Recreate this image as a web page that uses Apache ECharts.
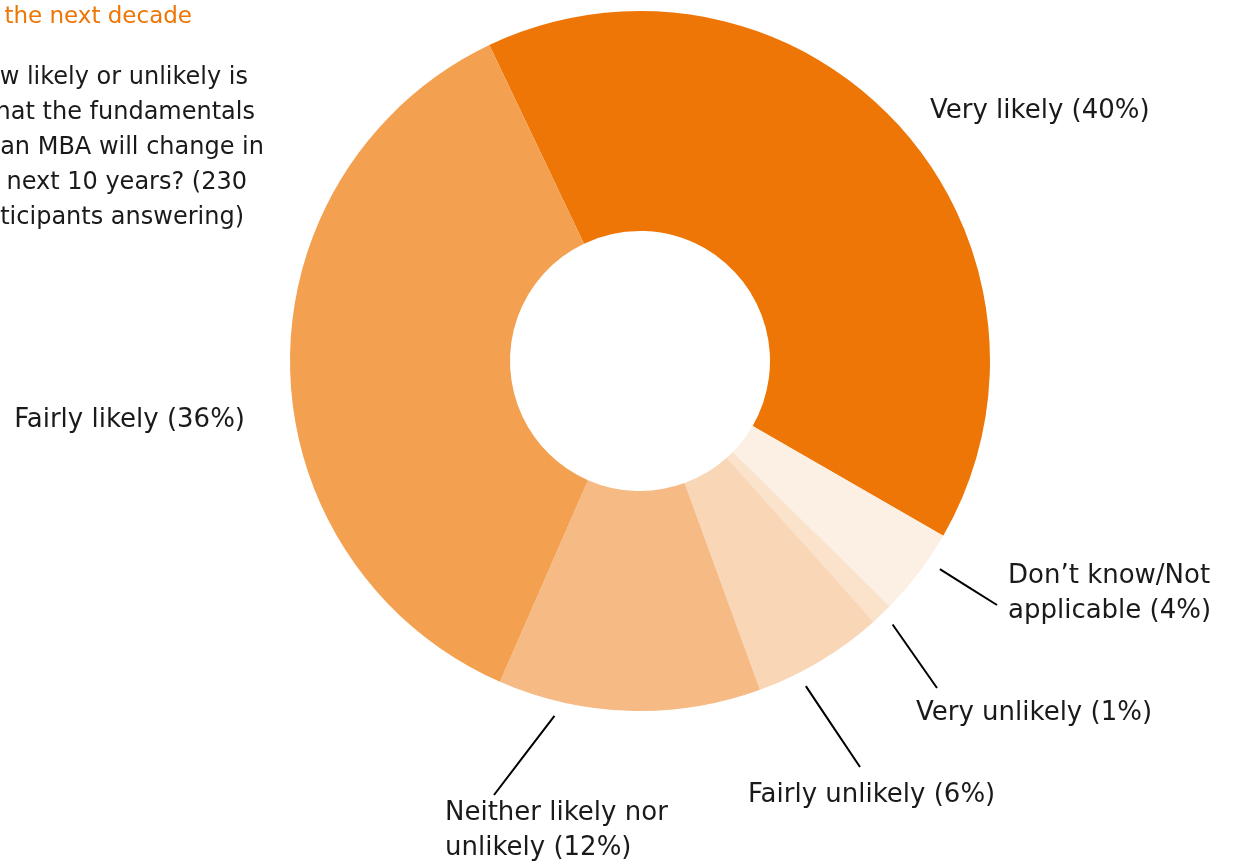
<!DOCTYPE html>
<html><head><meta charset="utf-8">
<script src="https://cdn.jsdelivr.net/npm/echarts@6/dist/echarts.min.js"></script>
<style>html,body{margin:0;padding:0;background:#fff}#c{width:1241px;height:864px}</style>
</head><body><div id="c"></div>
<script>
// ---- data ----
const categories = ['Very likely', 'Don’t know/Not\napplicable', 'Very unlikely', 'Fairly unlikely', 'Neither likely nor\nunlikely', 'Fairly likely'];
const values = [40, 4, 1, 6, 12, 36];
const colors = ['#EE7607', '#FCEFE3', '#FBE2CB', '#F9D6B6', '#F6BA84', '#F3A050'];
const titleText = 'the next decade';
const questionLines = ['How likely or unlikely is', 'it that the fundamentals', 'of an MBA will change in', 'the next 10 years? (230', 'participants answering)'];

// ---- layout ----
const CX = 640, CY = 361, R = 350, R0 = 130, START = 115.5;
const FONT = 'DejaVu Sans';
const labelPos = [
  {x: 930, y: 111, align: 'left'},
  {x: 1008, y: 594, align: 'left', frac: 0.33, end: [997, 605]},
  {x: 916, y: 713, align: 'left', frac: 0.47, end: [937, 688]},
  {x: 748, y: 795, align: 'left', frac: 0.68, end: [860, 767]},
  {x: 445, y: 831, align: 'left', frac: 0.77, end: [494, 795]},
  {x: 245, y: 420, align: 'right'}
];
const total = values.reduce((a, b) => a + b, 0);
const startAngles = [];
let acc = -START;
values.forEach(v => { startAngles.push(acc); acc += v / total * 360; });

const data = categories.map((c, i) => ({
  name: c, value: values[i],
  itemStyle: {color: colors[i]},
  labelLine: {show: labelPos[i].frac != null}
}));

const chart = echarts.init(document.getElementById('c'), null, {renderer: 'canvas'});
chart.setOption({
  animation: false,
  backgroundColor: '#fff',
  graphic: [
    {type: 'text', x: 192, y: 17, style: {text: titleText, fill: '#EE7607', fontFamily: FONT, fontSize: 23, textAlign: 'right', textVerticalAlign: 'middle'}}
  ].concat(questionLines.map((t, i) => ({
    type: 'text', x: [248, 255, 264, 247, 244][i], y: 78 + i * 35,
    style: {text: t, fill: '#1a1a1a', fontFamily: FONT, fontSize: 24, textAlign: 'right', textVerticalAlign: 'middle'}
  }))),
  series: [{
    type: 'pie',
    silent: true,
    center: [CX, CY],
    radius: [R0, R],
    startAngle: START,
    clockwise: true,
    avoidLabelOverlap: false,
    data: data,
    label: {
      show: true, position: 'outside',
      formatter: p => p.name + ' (' + p.value + '%)',
      fontFamily: FONT, fontSize: 26, color: '#1a1a1a', lineHeight: 35
    },
    labelLine: {show: true, lineStyle: {color: '#000', width: 2}},
    labelLayout: function (params) {
      const i = params.dataIndex;
      const p = labelPos[i];
      const out = {x: p.x, y: p.y, align: p.align, verticalAlign: 'middle'};
      if (p.frac != null) {
        const span = values[i] / total * 360;
        const a = (startAngles[i] + p.frac * span) * Math.PI / 180;
        const r = R + 15;
        const s = [CX + r * Math.cos(a), CY + r * Math.sin(a)];
        out.labelLinePoints = [s, [(s[0] + p.end[0]) / 2, (s[1] + p.end[1]) / 2], p.end];
      }
      return out;
    }
  }]
});
</script></body></html>
